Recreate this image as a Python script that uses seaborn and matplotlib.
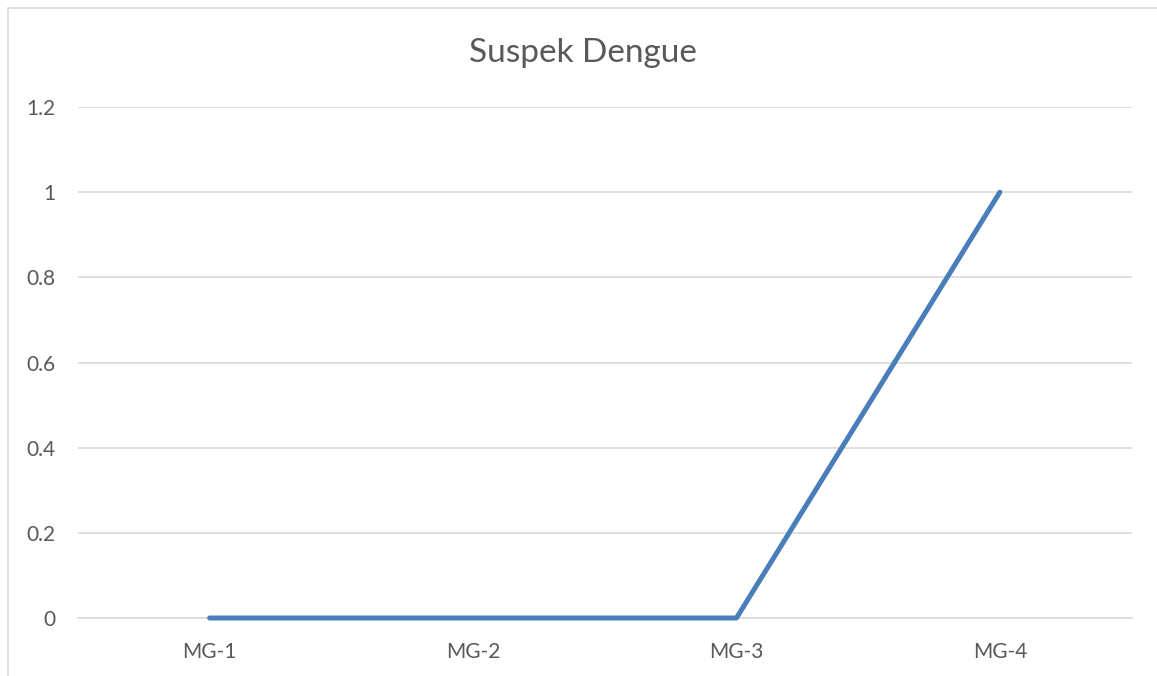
import pandas as pd
import matplotlib
matplotlib.use("Agg")
import matplotlib.pyplot as plt
from matplotlib.patches import Rectangle
import seaborn as sns

# data
groups = ["MG-1", "MG-2", "MG-3", "MG-4"]
cases = [0, 0, 0, 1]
yticks = [0, 0.2, 0.4, 0.6, 0.8, 1, 1.2]
ytick_labels = ["0", "0.2", "0.4", "0.6", "0.8", "1", "1.2"]

df = pd.DataFrame({"group": groups, "cases": cases})

sns.set_style("white")
plt.rcParams["font.family"] = ["Lato", "DejaVu Sans"]

fig = plt.figure(figsize=(11.57, 6.76), dpi=100)
ax = fig.add_axes([0.0674, 0.0858, 0.9106, 0.7559])

sns.lineplot(data=df, x="group", y="cases", ax=ax, color="#4a7ebb",
             linewidth=3.6, sort=False, solid_capstyle="round",
             clip_on=False, zorder=5)

ax.set_xlim(-0.5, 3.5)
ax.set_ylim(0, 1.2)
ax.set_yticks(yticks)
ax.set_yticklabels(ytick_labels)
ax.grid(axis="y", color="#d9d9d9", linewidth=1.2)
ax.set_axisbelow(True)
for s in ["top", "right", "left"]:
    ax.spines[s].set_visible(False)
ax.spines["bottom"].set_color("#d9d9d9")
ax.spines["bottom"].set_linewidth(1.2)
ax.spines["bottom"].set_zorder(1)
ax.tick_params(axis="both", length=0, labelsize=15, colors="#595959")
ax.tick_params(axis="y", pad=16)
ax.tick_params(axis="x", pad=17)
ax.set_xlabel("")
ax.set_ylabel("")

fig.text(0.504, 0.921, "Suspek Dengue", ha="center", va="center",
         fontsize=24, color="#595959")

# outer chart border (cropped on the right and bottom)
fig.patches.append(Rectangle((8 / 1157, -0.05), 1.1, 1 - 8 / 676 + 0.05,
                             transform=fig.transFigure, fill=False,
                             edgecolor="#d9d9d9", linewidth=1.2))

fig.savefig("out.png", dpi=100)
